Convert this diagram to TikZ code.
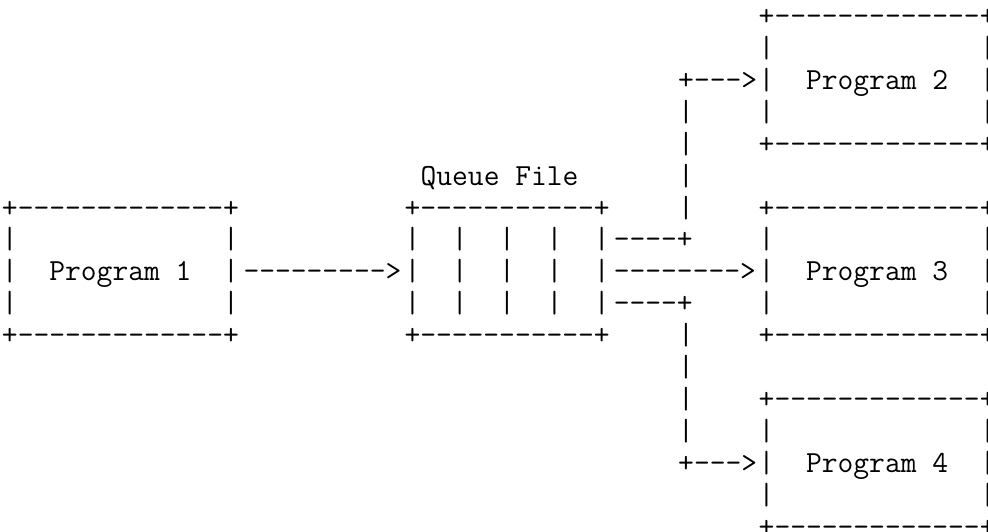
\documentclass[tikz,border=0pt]{standalone}
\usepackage{tikz}

\begin{document}
\begin{tikzpicture}[x=8.05pt, y=-15.95pt,
  ascii/.style={font=\ttfamily\fontsize{15.33pt}{15.95pt}\selectfont,
                inner sep=0pt, outer sep=0pt, anchor=base west}]
  % page frame, the right column of boxes runs off the edge
  \useasboundingbox (-1pt,12.8pt) rectangle (493pt,-252.7pt);
  \clip (-1pt,12.8pt) rectangle (493pt,-252.7pt);

  % the four program boxes (column, row of the top edge)
  \foreach \n/\c/\r in {1/0/6, 2/47/0, 3/47/6, 4/47/12} {
    \node[ascii] (prog\n-top) at (\c,\r)   {+-------------+};
    \node[ascii] (prog\n-up)  at (\c,\r+1) {|~~~~~~~~~~~~~|};
    \node[ascii] (prog\n)     at (\c,\r+2) {|~~Program~\n~~|};
    \node[ascii] (prog\n-dn)  at (\c,\r+3) {|~~~~~~~~~~~~~|};
    \node[ascii] (prog\n-bot) at (\c,\r+4) {+-------------+};
  }

  % queue file with its slots
  \node[ascii] (qlabel) at (26,5)  {Queue~File};
  \node[ascii] (qtop)   at (25,6)  {+-----------+};
  \node[ascii] (q1)     at (25,7)  {|~~|~~|~~|~~|};
  \node[ascii] (q2)     at (25,8)  {|~~|~~|~~|~~|};
  \node[ascii] (q3)     at (25,9)  {|~~|~~|~~|~~|};
  \node[ascii] (qbot)   at (25,10) {+-----------+};

  % program 1 into the queue
  \node[ascii] (in) at (15,8) {--------->};

  % fan out of the queue
  \node[ascii] (out-up)  at (38,7) {----+};
  \node[ascii] (out-mid) at (38,8) {-------->};
  \node[ascii] (out-dn)  at (38,9) {----+};
  \node[ascii] (to2)     at (42,2)  {+--->};
  \node[ascii] (to4)     at (42,14) {+--->};
  \foreach \r in {3,4,5,6,10,11,12,13}
    \node[ascii] (bar\r) at (42,\r) {|};
\end{tikzpicture}
\end{document}
